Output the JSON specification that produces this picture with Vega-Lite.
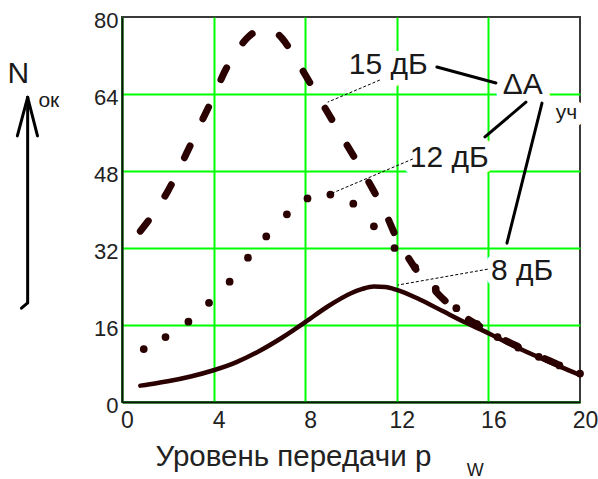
{
  "$schema": "https://vega.github.io/schema/vega-lite/v6.json",
  "width": 458,
  "height": 385,
  "autosize": {"type": "none"},
  "padding": {"left": 122, "top": 17, "right": 18, "bottom": 77},
  "background": "white",
  "datasets": {
    "curves": [
      {"series": "8 дБ", "x": 0.8, "y": 3.4}, {"series": "8 дБ", "x": 1.5, "y": 3.9}, {"series": "8 дБ", "x": 2, "y": 4.3},
      {"series": "8 дБ", "x": 3, "y": 5.3}, {"series": "8 дБ", "x": 4, "y": 6.6}, {"series": "8 дБ", "x": 5, "y": 8.3},
      {"series": "8 дБ", "x": 6, "y": 10.6}, {"series": "8 дБ", "x": 7, "y": 13.4}, {"series": "8 дБ", "x": 8, "y": 16.6},
      {"series": "8 дБ", "x": 9, "y": 19.9}, {"series": "8 дБ", "x": 10, "y": 22.6}, {"series": "8 дБ", "x": 10.5, "y": 23.5},
      {"series": "8 дБ", "x": 11, "y": 24}, {"series": "8 дБ", "x": 11.5, "y": 23.9}, {"series": "8 дБ", "x": 12, "y": 23.3},
      {"series": "8 дБ", "x": 13, "y": 21.3}, {"series": "8 дБ", "x": 14, "y": 18.9}, {"series": "8 дБ", "x": 15, "y": 16.5},
      {"series": "8 дБ", "x": 16, "y": 14.3}, {"series": "8 дБ", "x": 17, "y": 11.9}, {"series": "8 дБ", "x": 18, "y": 9.7},
      {"series": "8 дБ", "x": 19, "y": 7.6}, {"series": "8 дБ", "x": 20, "y": 5.6},
      {"series": "15 дБ", "x": 0.8, "y": 35.5}, {"series": "15 дБ", "x": 1.5, "y": 40}, {"series": "15 дБ", "x": 2, "y": 43.8},
      {"series": "15 дБ", "x": 2.5, "y": 48.5}, {"series": "15 дБ", "x": 3, "y": 53.5}, {"series": "15 дБ", "x": 3.5, "y": 58.5},
      {"series": "15 дБ", "x": 4, "y": 63.5}, {"series": "15 дБ", "x": 4.5, "y": 68.8}, {"series": "15 дБ", "x": 5, "y": 72.8},
      {"series": "15 дБ", "x": 5.5, "y": 75.8}, {"series": "15 дБ", "x": 6, "y": 77.2}, {"series": "15 дБ", "x": 6.5, "y": 77.3},
      {"series": "15 дБ", "x": 7, "y": 75.5}, {"series": "15 дБ", "x": 7.5, "y": 72}, {"series": "15 дБ", "x": 8, "y": 68},
      {"series": "15 дБ", "x": 8.5, "y": 64}, {"series": "15 дБ", "x": 9, "y": 60}, {"series": "15 дБ", "x": 9.5, "y": 56},
      {"series": "15 дБ", "x": 10, "y": 52}, {"series": "15 дБ", "x": 10.5, "y": 48}, {"series": "15 дБ", "x": 11, "y": 43.8},
      {"series": "15 дБ", "x": 11.5, "y": 39.3}, {"series": "15 дБ", "x": 12, "y": 34}, {"series": "15 дБ", "x": 12.5, "y": 30},
      {"series": "15 дБ", "x": 13, "y": 26.5}, {"series": "15 дБ", "x": 13.5, "y": 24}, {"series": "15 дБ", "x": 14, "y": 21.5},
      {"series": "15 дБ", "x": 14.5, "y": 19.5}, {"series": "15 дБ", "x": 15, "y": 17.6}, {"series": "15 дБ", "x": 15.5, "y": 16.1},
      {"series": "15 дБ", "x": 16, "y": 14.6}, {"series": "15 дБ", "x": 17, "y": 12.2}, {"series": "15 дБ", "x": 18, "y": 10},
      {"series": "15 дБ", "x": 19, "y": 7.9}, {"series": "15 дБ", "x": 20, "y": 5.8}
    ],
    "dots": [
      {"x": 0.95, "y": 11}, {"x": 1.9, "y": 13.5}, {"x": 2.9, "y": 16.7}, {"x": 3.8, "y": 20.6},
      {"x": 4.7, "y": 25}, {"x": 5.5, "y": 30}, {"x": 6.3, "y": 34.4}, {"x": 7.2, "y": 39},
      {"x": 8.1, "y": 42.3}, {"x": 9.1, "y": 43.1}, {"x": 10.1, "y": 41.2}, {"x": 11, "y": 36.5},
      {"x": 11.9, "y": 32}, {"x": 12.8, "y": 28}, {"x": 13.7, "y": 23.5}, {"x": 14.6, "y": 19.5},
      {"x": 15.5, "y": 16.2}, {"x": 16.4, "y": 13.5}, {"x": 17.3, "y": 11.3}, {"x": 18.2, "y": 9.4},
      {"x": 19.1, "y": 7.6}, {"x": 20, "y": 5.9}
    ],
    "links": [
      {"kind": "leader", "x": 11.26, "y": 66.9, "x2": 8.98, "y2": 62.3},
      {"kind": "leader", "x": 12.7, "y": 50.5, "x2": 8.98, "y2": 43.0},
      {"kind": "leader", "x": 15.97, "y": 27.6, "x2": 12.04, "y2": 24.3},
      {"kind": "connector", "x": 13.75, "y": 69.6, "x2": 16.33, "y2": 66.3},
      {"kind": "connector", "x": 17.64, "y": 62.3, "x2": 15.85, "y2": 55.1},
      {"kind": "connector", "x": 18.34, "y": 62.1, "x2": 16.81, "y2": 33.0},
      {"kind": "arrow", "x": -4.12, "y": 63.3, "x2": -4.12, "y2": 20.6},
      {"kind": "arrow", "x": -4.12, "y": 20.6, "x2": -4.39, "y2": 19.5},
      {"kind": "arrow", "x": -4.12, "y": 63.3, "x2": -4.57, "y2": 55.3},
      {"kind": "arrow", "x": -4.12, "y": 63.3, "x2": -3.69, "y2": 55.3}
    ],
    "labels": [
      {"role": "main", "text": "15 дБ", "x": 9.9, "y": 68.2},
      {"role": "main", "text": "12 дБ", "x": 12.57, "y": 48.8},
      {"role": "main", "text": "8 дБ", "x": 16.11, "y": 25.4},
      {"role": "main", "text": "ΔA", "x": 16.63, "y": 64.0},
      {"role": "sub", "text": "уч", "x": 18.94, "y": 58.8},
      {"role": "main", "text": "N", "x": -5.0, "y": 66.3},
      {"role": "sub", "text": "ок", "x": -3.65, "y": 61.3},
      {"role": "axsub", "text": "W", "x": 15.06, "y": -15.4}
    ]
  },
  "encoding": {
    "x": {
      "field": "x", "type": "quantitative",
      "scale": {"domain": [0, 20], "nice": false, "zero": false},
      "axis": {
        "values": [0, 4, 8, 12, 16, 20],
        "labelPadding": 7, "labelOffset": 5, "labelFlush": false, "labelFontSize": 23,
        "title": "Уровень передачи  р",
        "titleFontSize": 29.5, "titleFontWeight": "normal", "titleColor": "#222",
        "titleAlign": "left", "titleBaseline": "alphabetic", "titleX": 33, "titleY": 63, "titleAnchor": null,
        "gridOpacity": {"condition": {"test": "datum.value === 20", "value": 0}, "value": 1}
      }
    },
    "y": {
      "field": "y", "type": "quantitative",
      "scale": {"domain": [0, 80], "nice": false, "zero": false},
      "axis": {
        "values": [0, 16, 32, 48, 64, 80],
        "labelPadding": 4, "labelOffset": 3, "labelFlush": false,
        "title": null,
        "gridOpacity": {"condition": {"test": "datum.value === 80", "value": 0}, "value": 1}
      }
    }
  },
  "layer": [
    {
      "data": {"name": "labels"},
      "transform": [{"filter": "datum.role === 'main' && datum.x > 0"}],
      "mark": {"type": "text", "font": "Liberation Sans", "fontSize": 30, "align": "left", "baseline": "alphabetic", "fill": "white", "stroke": "white", "strokeWidth": 14, "strokeJoin": "round"},
      "encoding": {"text": {"field": "text"}}
    },
    {
      "data": {"name": "labels"},
      "transform": [{"filter": "datum.role === 'sub' && datum.x > 0"}],
      "mark": {"type": "text", "font": "Liberation Sans", "fontSize": 21, "align": "left", "baseline": "alphabetic", "fill": "white", "stroke": "white", "strokeWidth": 14, "strokeJoin": "round"},
      "encoding": {"text": {"field": "text"}}
    },
    {
      "data": {"name": "curves"},
      "transform": [{"filter": "datum.series === '8 дБ'"}],
      "mark": {"type": "line", "interpolate": "monotone", "color": "#2a0000", "strokeWidth": 4.5, "strokeCap": "round"},
      "encoding": {}
    },
    {
      "data": {"name": "curves"},
      "transform": [{"filter": "datum.series === '15 дБ'"}],
      "mark": {"type": "line", "interpolate": "monotone", "color": "#2a0000", "strokeWidth": 7, "strokeCap": "round", "strokeDash": [13, 30]},
      "encoding": {}
    },
    {
      "data": {"name": "dots"},
      "mark": {"type": "circle", "color": "#2a0000", "opacity": 1, "size": 60},
      "encoding": {}
    },
    {
      "data": {"name": "links"},
      "transform": [{"filter": "datum.kind === 'leader'"}],
      "mark": {"type": "rule", "color": "#000", "strokeWidth": 1, "strokeDash": [3, 2]},
      "encoding": {"x2": {"field": "x2"}, "y2": {"field": "y2"}}
    },
    {
      "data": {"name": "links"},
      "transform": [{"filter": "datum.kind !== 'leader'"}],
      "mark": {"type": "rule", "color": "#000", "strokeWidth": 3, "strokeCap": "round"},
      "encoding": {"x2": {"field": "x2"}, "y2": {"field": "y2"}}
    },
    {
      "data": {"name": "labels"},
      "transform": [{"filter": "datum.role === 'main'"}],
      "mark": {"type": "text", "font": "Liberation Sans", "fontSize": 30, "align": "left", "baseline": "alphabetic", "color": "#1a1a1a"},
      "encoding": {"text": {"field": "text"}}
    },
    {
      "data": {"name": "labels"},
      "transform": [{"filter": "datum.role === 'sub'"}],
      "mark": {"type": "text", "font": "Liberation Sans", "fontSize": 21, "align": "left", "baseline": "alphabetic", "color": "#1a1a1a"},
      "encoding": {"text": {"field": "text"}}
    },
    {
      "data": {"name": "labels"},
      "transform": [{"filter": "datum.role === 'axsub'"}],
      "mark": {"type": "text", "font": "Liberation Sans", "fontSize": 18, "align": "left", "baseline": "alphabetic", "color": "#1a1a1a"},
      "encoding": {"text": {"field": "text"}}
    }
  ],
  "config": {
    "view": {"stroke": "#3a3a3a", "strokeWidth": 2},
    "axis": {
      "domainColor": "#111", "domainWidth": 2,
      "grid": true, "gridColor": "#00ff00", "gridWidth": 2,
      "ticks": false,
      "labelFont": "Liberation Sans", "labelFontSize": 22, "labelColor": "#222",
      "titleFont": "Liberation Sans"
    }
  }
}
